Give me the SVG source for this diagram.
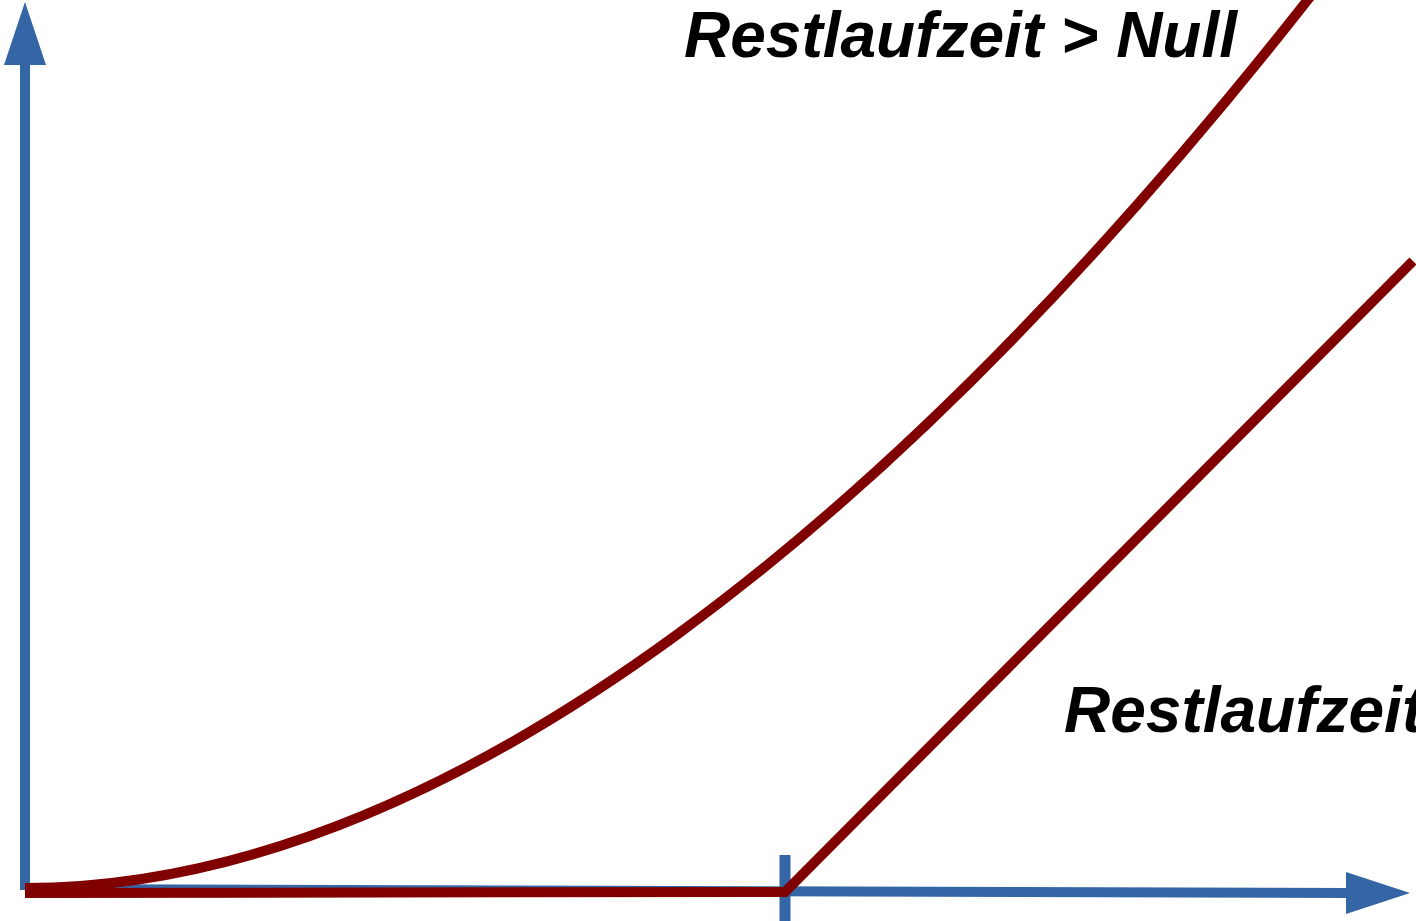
<svg xmlns="http://www.w3.org/2000/svg" width="1416" height="921" viewBox="0 0 1416 921">
<style>
.axis{stroke:#3465a4;stroke-width:10;fill:none}
.head{fill:#3465a4;stroke:none}
.curve{stroke:#800000;stroke-width:10;fill:none;stroke-linejoin:miter}
.lbl{font-family:"Liberation Sans",Arial,sans-serif;font-weight:bold;font-style:italic;font-size:64px;fill:#000}
</style>
<rect width="1416" height="921" fill="#fff"/>
<g id="axes">
<line class="axis" x1="25" y1="890" x2="25" y2="60"/>
<polygon class="head" points="4,65 46,65 25,2"/>
<line class="axis" x1="25" y1="889" x2="1350" y2="893"/>
<polygon class="head" points="1346,872 1346,914 1410,893"/>
<line class="axis" x1="785" y1="855" x2="785" y2="921" style="stroke-width:11"/>
</g>
<g id="connectors">
<path class="curve" d="M25,888 C455,888 910,506 1310,-3"/>
<polyline class="curve" points="25,893 785,892 1413,261"/>
</g>
<g id="label-top"><text class="lbl" x="684" y="57">Restlaufzeit &gt; Null</text></g>
<g id="label-bottom"><text class="lbl" x="1064" y="732">Restlaufzeit</text></g>
</svg>
